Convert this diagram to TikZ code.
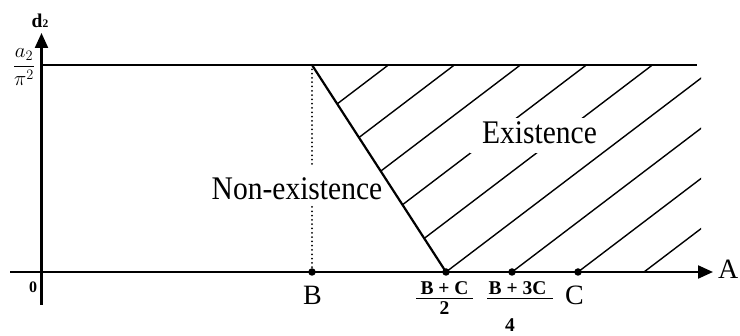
\documentclass[tikz,border=0pt]{standalone}
\usepackage{fontspec}
\setmainfont{Liberation Serif}
\usepackage{graphicx}
\usetikzlibrary{arrows.meta}
\begin{document}
\begin{tikzpicture}[x=1pt,y=-1pt,
  axis/.style={line width=2.2pt},
  hatch/.style={line width=1.4pt},
  dotline/.style={line width=2pt, line cap=round, dash pattern=on 0pt off 4.3pt},
  pt/.style={circle,fill=black,inner sep=0pt,minimum size=7.5pt},
  lab/.style={font=\fontsize{28}{30}\selectfont, inner sep=0pt},
  fraclab/.style={font=\bfseries\fontsize{19.5}{21}\selectfont, inner sep=0pt},
  region/.style={font=\fontsize{33}{36}\selectfont, inner sep=0pt},
  tip/.style={-{Triangle[length=15pt,width=13pt]}}
]
\useasboundingbox (0,0) rectangle (740,336);
% key points
\coordinate (ybot) at (41.5,305);
\coordinate (ytop) at (41.5,33);
\coordinate (xl) at (10,272);
\coordinate (xr) at (713,272);
\coordinate (tl) at (41.5,65);
\coordinate (tr) at (697,65);
\coordinate (D1) at (312,65);
\coordinate (gapT) at (312,165);
\coordinate (gapB) at (312,207);
\coordinate (Bp) at (312,272);
\coordinate (Mp) at (446,272);
\coordinate (Qp) at (512,272);
\coordinate (Cp) at (578,272);
% hatching
\begin{scope}
  \clip (312,65) -- (701,65) -- (701,272) -- (446,272) -- cycle;
  \foreach \k in {116,182,...,644} \draw[hatch] (\k-100,348) -- (\k+400,-32);
\end{scope}
\fill[white] (470,118) rectangle (600,153);
\node[region, anchor=base] (exist) at (539.5,144) {\scalebox{0.895}[1]{Existence}};
% dotted vertical at B
\draw[dotline] (D1) -- (gapT);
\draw[dotline] (gapB) -- (Bp);
\node[region, anchor=base] (nonexist) at (297,200) {\scalebox{0.895}[1]{Non-existence}};
% lines
\draw[axis] (tl) -- (tr);
\draw[axis] (D1) -- (Mp);
\draw[axis,tip] (ybot) -- (ytop);
\draw[axis,tip] (xl) -- (xr);
% dots
\node[pt] (B) at (Bp) {};
\node[pt] (M) at (Mp) {};
\node[pt] (Q) at (Qp) {};
\node[pt] (C) at (Cp) {};
% labels
\node[font=\bfseries\fontsize{19.5}{20}\selectfont, anchor=base west, inner sep=0pt] (dlab) at (31.5,28) {d{\fontsize{11.5}{11.5}\selectfont 2}};
\node[inner sep=0pt, font=\fontsize{21}{25}\selectfont] (alab) at (24,67) {$\displaystyle\frac{a_2}{\pi^2}$};
\node[font=\bfseries\fontsize{16}{16}\selectfont, inner sep=0pt] (zero) at (33,287.5) {0};
\node[lab, anchor=base] (Blab) at (312.5,305) {B};
\node[lab, anchor=base] (Clab) at (574.5,305) {C};
\node[lab, anchor=base west] (Alab) at (718,279) {A};
\node[fraclab, anchor=base] (n1) at (444.5,295) {B + C};
\coordinate (f1l) at (416,298.5);
\coordinate (f1r) at (473,298.5);
\draw[line width=1.6pt] (f1l) -- (f1r);
\node[fraclab, anchor=base] (d1) at (444.5,315) {2};
\node[fraclab, anchor=base] (n2) at (517.5,295) {B + 3C};
\coordinate (f2l) at (487,298.5);
\coordinate (f2r) at (553,298.5);
\draw[line width=1.6pt] (f2l) -- (f2r);
\node[fraclab, anchor=base] (d2) at (510,332) {4};
\end{tikzpicture}
\end{document}
